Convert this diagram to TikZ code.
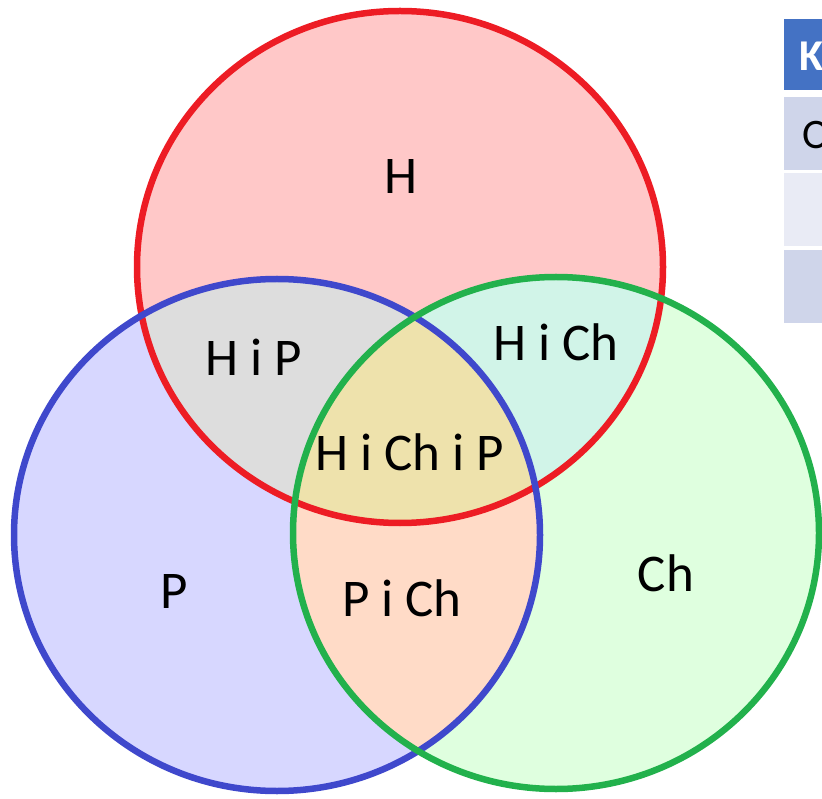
\documentclass[tikz,border=0pt]{standalone}
\usepackage{fontspec}
\setmainfont{Carlito}
\definecolor{fH}{HTML}{FFC8C8}
\definecolor{fP}{HTML}{D7D7FF}
\definecolor{fC}{HTML}{DFFFDF}
\definecolor{fHP}{HTML}{DDDDDD}
\definecolor{fHC}{HTML}{D1F4E8}
\definecolor{fPC}{HTML}{FFDBC7}
\definecolor{fAll}{HTML}{EEE2AC}
\definecolor{lH}{HTML}{ED1C24}
\definecolor{lP}{HTML}{3F48CC}
\definecolor{lC}{HTML}{22B14C}
\definecolor{tHead}{HTML}{4472C4}
\definecolor{tRowA}{HTML}{CFD5EA}
\definecolor{tRowB}{HTML}{E9EBF5}
\begin{document}
\begin{tikzpicture}[x=1pt,y=-1pt,
  lbl/.style={font=\fontsize{53}{56}\selectfont, text=black, inner sep=0pt},
  ring/.style={line width=6.5pt}]
\useasboundingbox (0,0) rectangle (822,799);
\clip (0,0) rectangle (822,799);
% base fills
\fill[fH] (400,267) ellipse [x radius=263, y radius=256];
\fill[fP] (277,535) ellipse [x radius=263, y radius=256];
\fill[fC] (556,533) ellipse [x radius=263, y radius=256];
% pairwise intersections
\begin{scope}
  \clip (400,267) ellipse [x radius=263, y radius=256];
  \fill[fHP] (277,535) ellipse [x radius=263, y radius=256];
\end{scope}
\begin{scope}
  \clip (400,267) ellipse [x radius=263, y radius=256];
  \fill[fHC] (556,533) ellipse [x radius=263, y radius=256];
\end{scope}
\begin{scope}
  \clip (277,535) ellipse [x radius=263, y radius=256];
  \fill[fPC] (556,533) ellipse [x radius=263, y radius=256];
\end{scope}
\begin{scope}
  \clip (400,267) ellipse [x radius=263, y radius=256];
  \clip (277,535) ellipse [x radius=263, y radius=256];
  \fill[fAll] (556,533) ellipse [x radius=263, y radius=256];
\end{scope}
% outlines
\draw[ring, lH] (400,267) ellipse [x radius=263, y radius=256];
\draw[ring, lP] (277,535) ellipse [x radius=263, y radius=256];
\draw[ring, lC] (556,533) ellipse [x radius=263, y radius=256];
% labels
\node[lbl] (tH) at (401,177) {H};
\node[lbl] (tHP) at (254,357) {H i P};
\node[lbl] (tHC) at (556,342) {H i Ch};
\node[lbl] (tHCP) at (410,452) {H i Ch i P};
\node[lbl] (tP) at (174,591) {P};
\node[lbl] (tPC) at (402,598) {P i Ch};
\node[lbl] (tC) at (666,573) {Ch};
% table fragment
\fill[tHead] (784,19) rectangle (840,90);
\fill[tRowA] (784,97) rectangle (840,170);
\fill[tRowB] (784,173) rectangle (840,246);
\fill[tRowA] (784,250) rectangle (840,323);
\node[anchor=west, inner sep=0pt, text=white, font=\bfseries\fontsize{44}{48}\selectfont] (key) at (799,56) {K};
\node[anchor=west, inner sep=0pt, text=black, font=\fontsize{42}{46}\selectfont] (row1) at (802,135) {O};
\end{tikzpicture}
\end{document}
